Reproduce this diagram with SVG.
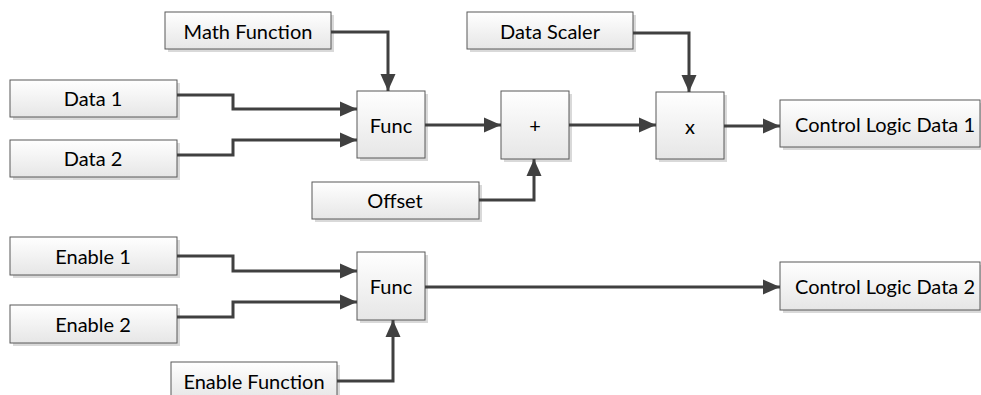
<svg xmlns="http://www.w3.org/2000/svg" width="981" height="395" viewBox="0 0 981 395">
<defs>
<linearGradient id="g" x1="0" y1="0" x2="0" y2="1">
<stop offset="0" stop-color="#ffffff"/>
<stop offset="1" stop-color="#e6e6e6"/>
</linearGradient>
<marker id="a" markerWidth="17" markerHeight="16" refX="17" refY="8" orient="auto" markerUnits="userSpaceOnUse">
<path d="M0,0.5 L17,8 L0,15.5 Z" fill="#404040"/>
</marker>
<style>
.sh{fill:#d9d9d9;stroke:none}
.bx{fill:url(#g);stroke:#595959;stroke-width:1}
.t{font-family:Lato,"Open Sans","Liberation Sans",sans-serif;font-size:20px;fill:#000;text-anchor:middle;dominant-baseline:central}
.c{fill:none;stroke:#404040;stroke-width:3;marker-end:url(#a)}
</style>
</defs>
<rect width="981" height="395" fill="#fff"/>
<g id="math-function"><rect class="sh" x="168" y="15" width="166" height="37"/><rect class="bx" x="165" y="12" width="166" height="37"/><text class="t" x="248" y="31">Math Function</text></g>
<g id="data-scaler"><rect class="sh" x="470" y="15" width="166" height="37"/><rect class="bx" x="467" y="12" width="166" height="37"/><text class="t" x="550" y="31">Data Scaler</text></g>
<g id="data1"><rect class="sh" x="13" y="83" width="167" height="37"/><rect class="bx" x="10" y="80" width="167" height="37"/><text class="t" x="93" y="98">Data 1</text></g>
<g id="data2"><rect class="sh" x="13" y="143" width="167" height="37"/><rect class="bx" x="10" y="140" width="167" height="37"/><text class="t" x="93" y="158">Data 2</text></g>
<g id="func1"><rect class="sh" x="360" y="94" width="68" height="67"/><rect class="bx" x="357" y="91" width="68" height="67"/><text class="t" x="391" y="125">Func</text></g>
<g id="plus"><rect class="sh" x="504" y="94" width="68" height="68"/><rect class="bx" x="501" y="91" width="68" height="68"/><text class="t" x="535" y="125">+</text></g>
<g id="times"><rect class="sh" x="659" y="95" width="68" height="67"/><rect class="bx" x="656" y="92" width="68" height="67"/><text class="t" x="690" y="126">x</text></g>
<g id="cld1"><rect class="sh" x="783" y="103" width="200" height="47"/><rect class="bx" x="780" y="100" width="200" height="47"/><text class="t" x="885" y="124">Control Logic Data 1</text></g>
<g id="offset"><rect class="sh" x="315" y="185" width="167" height="37"/><rect class="bx" x="312" y="182" width="167" height="37"/><text class="t" x="395" y="200">Offset</text></g>
<g id="enable1"><rect class="sh" x="13" y="240" width="167" height="38"/><rect class="bx" x="10" y="237" width="167" height="38"/><text class="t" x="93" y="256">Enable 1</text></g>
<g id="enable2"><rect class="sh" x="13" y="308" width="167" height="38"/><rect class="bx" x="10" y="305" width="167" height="38"/><text class="t" x="93" y="324">Enable 2</text></g>
<g id="func2"><rect class="sh" x="360" y="255" width="68" height="68"/><rect class="bx" x="357" y="252" width="68" height="68"/><text class="t" x="391" y="286">Func</text></g>
<g id="cld2"><rect class="sh" x="783" y="265" width="200" height="48"/><rect class="bx" x="780" y="262" width="200" height="48"/><text class="t" x="885" y="286">Control Logic Data 2</text></g>
<g id="enable-function"><rect class="sh" x="174" y="365" width="166" height="37"/><rect class="bx" x="171" y="362" width="166" height="37"/><text class="t" x="254" y="381">Enable Function</text></g>
<g id="connectors">
<path class="c" d="M331,32 H388 V91"/>
<path class="c" d="M177,95 H233 V109 H357"/>
<path class="c" d="M177,155 H233 V140 H357"/>
<path class="c" d="M425,125 H501"/>
<path class="c" d="M479,200 H534 V159"/>
<path class="c" d="M569,125 H656"/>
<path class="c" d="M633,33 H689 V92"/>
<path class="c" d="M724,126 H780"/>
<path class="c" d="M177,256 H233 V271 H357"/>
<path class="c" d="M177,317 H233 V302 H357"/>
<path class="c" d="M425,287 H780"/>
<path class="c" d="M337,381 H393 V320"/>
</g>
</svg>
